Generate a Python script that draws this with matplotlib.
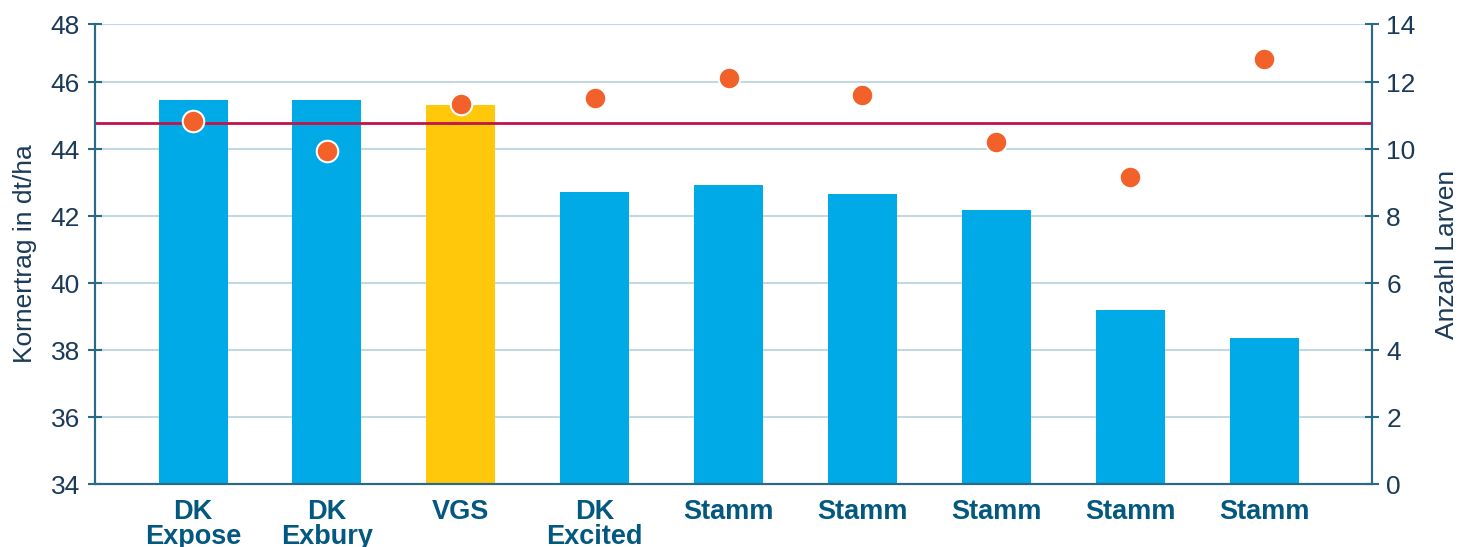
import matplotlib
matplotlib.use("Agg")
import matplotlib.pyplot as plt

categories = ["DK\nExpose", "DK\nExbury", "VGS", "DK\nExcited", "Stamm", "Stamm", "Stamm", "Stamm", "Stamm"]
kornertrag = [45.46, 45.46, 45.31, 42.72, 42.93, 42.66, 42.18, 39.19, 38.36]
larven = [10.84, 9.94, 11.33, 11.51, 12.13, 11.60, 10.21, 9.16, 12.68]
mittel_ertrag = 44.79
left_ticks = [34, 36, 38, 40, 42, 44, 46, 47.73]
left_labels = ["34", "36", "38", "40", "42", "44", "46", "48"]
right_ticks = [0, 2, 4, 6, 8, 10, 12, 13.73]
right_labels = ["0", "2", "4", "6", "8", "10", "12", "14"]

BLUE = "#00AAE6"
YELLOW = "#FFC80A"
ORANGE = "#F2612A"
RED = "#C0144A"
AXIS = "#2A6A86"
TEXT = "#1B3A57"
CAT = "#03587F"
GRID = "#C4D8E1"

plt.rcParams["font.family"] = ["Liberation Sans", "DejaVu Sans"]

fig = plt.figure(figsize=(14.63, 5.47), dpi=100)
ax = fig.add_axes([0.065, 0.115, 0.873, 0.841])
ax2 = ax.twinx()

x = list(range(len(categories)))
colors = [YELLOW if c == "VGS" else BLUE for c in categories]
ax.bar(x, [v - 34 for v in kornertrag], bottom=34, width=0.515, color=colors, zorder=2)
ax.axhline(mittel_ertrag, color=RED, lw=2, zorder=3)

ax.set_xlim(-0.732, 8.808)
ax.set_ylim(34, 47.73)
ax2.set_ylim(0, 13.73)

ax.set_yticks(left_ticks)
ax.set_yticklabels(left_labels)
ax2.set_yticks(right_ticks)
ax2.set_yticklabels(right_labels)

ax.yaxis.grid(True, color=GRID, lw=1.5, zorder=0)
ax.set_axisbelow(True)

ax2.plot(x, larven, "o", ms=15.5, color=ORANGE, mec="white", mew=1.5, zorder=5, ls="none")

ax.set_xticks(x)
ax.set_xticklabels(categories, fontsize=19.5, fontweight="bold", color=CAT, linespacing=0.95)
ax.tick_params(axis="x", length=0, pad=11)

for a in (ax, ax2):
    for s in a.spines.values():
        s.set_color(AXIS)
        s.set_linewidth(1.5)
    a.spines["top"].set_visible(False)

ax.tick_params(axis="y", direction="inout", length=10, width=1.5, color=AXIS,
               labelsize=19, labelcolor=TEXT, pad=6)
ax2.tick_params(axis="y", direction="inout", length=10, width=1.5, color=AXIS,
                labelsize=19, labelcolor=TEXT, pad=5)

ax.set_ylabel("Kornertrag in dt/ha", fontsize=19, color=TEXT, labelpad=10)
ax2.set_ylabel("Anzahl Larven", fontsize=19, color=TEXT, labelpad=14)

fig.savefig("out.png", dpi=100)
